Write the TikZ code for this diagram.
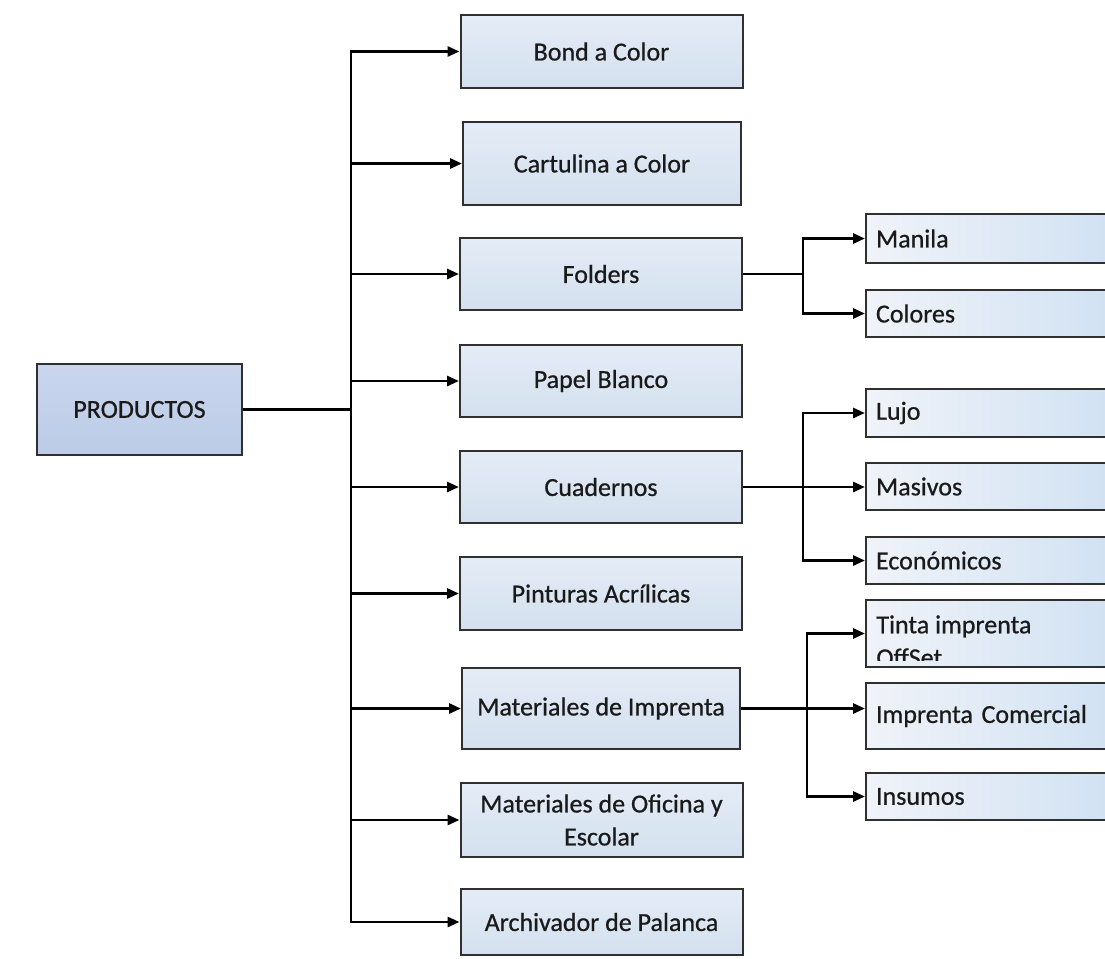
\documentclass[tikz,border=0pt]{standalone}
\usepackage{fontspec}
\setmainfont{Carlito}[FakeBold=0.7]
\usetikzlibrary{arrows.meta}
\definecolor{txt}{HTML}{1A1A1A}
\definecolor{edge}{HTML}{303030}
\definecolor{mainA}{HTML}{C9D6EE}
\definecolor{mainB}{HTML}{BCCBE6}
\definecolor{midA}{HTML}{E4ECF6}
\definecolor{midB}{HTML}{D4E0EF}
\definecolor{subA}{HTML}{F0F3F8}
\definecolor{subB}{HTML}{D0E1F3}
\tikzset{
  x=0.5pt, y=-0.5pt,
  every node/.style={text=txt, font=\fontsize{13}{16.5}\selectfont},
  mainbox/.style={draw=edge, line width=1pt, top color=mainA, bottom color=mainB, inner sep=0pt, align=center},
  midbox/.style={draw=edge, line width=1pt, top color=midA, bottom color=midB, inner sep=0pt, align=center, minimum width=141pt},
  subbox/.style={draw=edge, line width=1pt, left color=subA, right color=subB, inner xsep=5pt, inner ysep=0pt, text width=117pt, align=left},
  conn/.style={draw=black, line width=1.4pt},
  arr/.style={conn, -{Triangle[length=6pt,width=5pt]}},
  darr/.style={conn, {Triangle[length=6pt,width=5pt]}-{Triangle[length=6pt,width=5pt]}},
}
\begin{document}
\begin{tikzpicture}
\useasboundingbox (0,0) rectangle (1105,959);
\clip (0,0) rectangle (1105,959);
% main node
\node[mainbox, minimum width=102.5pt, minimum height=45.5pt] (prod) at (139.5,409.5) {PRODUCTOS};
% middle column
\node[midbox, minimum height=36.5pt] (bond) at (601.5,51.5) {Bond a Color};
\node[midbox, minimum width=139pt, minimum height=41.5pt] (cart) at (602,163.5) {Cartulina a Color};
\node[midbox, minimum height=36pt] (fold) at (601,274) {Folders};
\node[midbox, minimum height=36pt] (pap) at (601,381) {Papel Blanco};
\node[midbox, minimum height=36pt] (cuad) at (601,487) {Cuadernos};
\node[midbox, minimum height=36.5pt] (pint) at (601,593.5) {Pinturas Acrílicas};
\node[midbox, minimum width=139pt, minimum height=40.5pt] (imp) at (601,708.5) {Materiales de Imprenta};
\node[midbox, minimum height=37pt] (ofi) at (601.5,820) {Materiales de Oficina y\\Escolar};
\node[midbox, minimum height=33pt] (arch) at (601.5,922) {Archivador de Palanca};
% right column
\node[subbox, minimum height=24.5pt] (man) at (993,238.5) {Manila};
\node[subbox, minimum height=23.5pt] (col) at (993,313.5) {Colores};
\node[subbox, minimum height=24pt] (lujo) at (993,413) {Lujo};
\node[subbox, minimum height=23.5pt] (mas) at (993,486.5) {Masivos};
\node[subbox, minimum height=23.5pt] (eco) at (993,560.5) {Económicos};
\node[subbox, minimum height=33.5pt] (tinta) at (993,633.5) {};
\begin{scope}
\clip (866,601) rectangle (1110,660);
\node[anchor=north west, inner sep=0pt, align=left] (tintatext) at (876,615) {Tinta imprenta\\OffSet};
\end{scope}
\node[subbox, minimum height=33pt] (com) at (993,716) {Imprenta Comercial};
\node[subbox, minimum height=23.5pt] (ins) at (993,796.5) {Insumos};
% trunk
\coordinate (tk) at (351,409.5);
\draw[conn] (prod.east) -- (tk);
\draw[darr] (bond.west) -- (bond.west -| tk) -- (arch.west -| tk) -- (arch.west);
\foreach \n in {cart,fold,pap,cuad,pint,imp,ofi}{
  \draw[arr] (\n.west -| tk) -- (\n.west);
}
% folders branch
\coordinate (fx) at (803,274);
\draw[conn] (fold.east) -- (fx);
\draw[darr] (man.west) -- (man.west -| fx) -- (col.west -| fx) -- (col.west);
% cuadernos branch
\coordinate (cx) at (803,487);
\draw[darr] (lujo.west) -- (lujo.west -| cx) -- (eco.west -| cx) -- (eco.west);
\draw[arr] (cuad.east) -- (cuad.east -| mas.west);
% imprenta branch
\coordinate (ix) at (807,708.5);
\draw[darr] (tinta.west) -- (tinta.west -| ix) -- (ins.west -| ix) -- (ins.west);
\draw[arr] (imp.east) -- (imp.east -| com.west);
\end{tikzpicture}
\end{document}
